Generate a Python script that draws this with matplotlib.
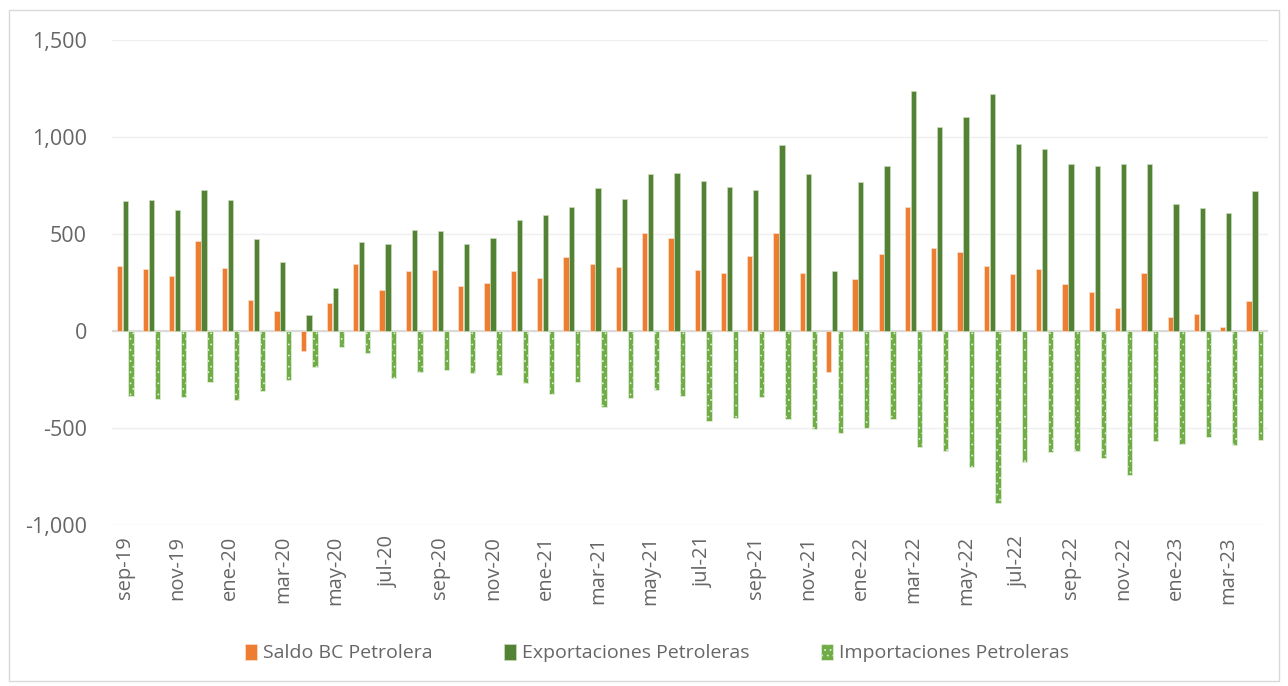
import numpy as np
import matplotlib
matplotlib.use("Agg")
import matplotlib.pyplot as plt
from matplotlib.patches import Rectangle

plt.rcParams['font.family'] = ['Open Sans', 'DejaVu Sans']
plt.rcParams['hatch.linewidth'] = 0.5

meses = ['sep-19', 'oct-19', 'nov-19', 'dic-19', 'ene-20', 'feb-20', 'mar-20', 'abr-20',
         'may-20', 'jun-20', 'jul-20', 'ago-20', 'sep-20', 'oct-20', 'nov-20', 'dic-20',
         'ene-21', 'feb-21', 'mar-21', 'abr-21', 'may-21', 'jun-21', 'jul-21', 'ago-21',
         'sep-21', 'oct-21', 'nov-21', 'dic-21', 'ene-22', 'feb-22', 'mar-22', 'abr-22',
         'may-22', 'jun-22', 'jul-22', 'ago-22', 'sep-22', 'oct-22', 'nov-22', 'dic-22',
         'ene-23', 'feb-23', 'mar-23', 'abr-23']

saldo = [335, 321, 283, 462, 325, 162, 103, -101, 143, 344, 210, 308, 316, 230, 249, 308,
         275, 380, 345, 332, 505, 478, 313, 299, 387, 505, 299, -213, 266, 397, 638, 428,
         407, 335, 292, 320, 242, 201, 119, 299, 72, 86, 19, 155]

exportaciones = [670, 674, 622, 725, 675, 473, 354, 84, 222, 457, 448, 519, 514, 448, 478, 574,
                 598, 639, 739, 679, 808, 816, 775, 744, 727, 959, 808, 308, 766, 851, 1239, 1050,
                 1104, 1220, 963, 940, 859, 853, 862, 863, 654, 633, 610, 720]

importaciones = [-335, -352, -338, -263, -354, -311, -251, -187, -81, -112, -241, -213, -199, -216,
                 -227, -268, -323, -263, -393, -347, -306, -337, -462, -448, -340, -454, -507, -524,
                 -499, -452, -600, -620, -699, -887, -674, -624, -617, -653, -744, -569, -583, -546,
                 -590, -564]

naranja = '#ED7D31'
verde_oscuro = '#548235'
verde_claro = '#70AD47'
gris_texto = '#666666'

fig = plt.figure(figsize=(12.88, 6.86), dpi=100)
ax = fig.add_axes([0.087, 0.2347, 0.8975, 0.707])

x = np.arange(len(meses))
ancho = 0.2
paso = 0.225

ax.bar(x - paso, saldo, ancho, color=naranja, edgecolor='#fbe0cf', linewidth=0.5,
       label='Saldo BC Petrolera', zorder=3)
ax.bar(x, exportaciones, ancho, color=verde_oscuro, edgecolor='#c9dcbd', linewidth=0.5,
       label='Exportaciones Petroleras', zorder=3)
ax.bar(x + paso, importaciones, ancho, color=verde_claro, edgecolor='#e6f0de', linewidth=0.5,
       hatch='...', label='Importaciones Petroleras', zorder=3)

ax.set_xlim(-0.5, len(meses) - 0.5)
ax.set_ylim(-1000, 1500)
ax.set_yticks([-1000, -500, 0, 500, 1000, 1500])
ax.yaxis.set_major_formatter(matplotlib.ticker.FuncFormatter(lambda v, p: f'{v:,.0f}'))
ax.grid(axis='y', color='#efefef', linewidth=1, zorder=0)
ax.axhline(0, color='#d9d9d9', linewidth=1.5, zorder=2)

ax.set_xticks(x[::2])
ax.set_xticklabels(meses[::2], rotation=90)
ax.tick_params(axis='both', length=0, labelsize=14.5, colors=gris_texto)
ax.tick_params(axis='y', pad=18, labelsize=15.5)
ax.tick_params(axis='x', pad=8)
for lado in ['top', 'right', 'left', 'bottom']:
    ax.spines[lado].set_visible(False)

fig.legend(loc='center', bbox_to_anchor=(0.51, 0.048), ncol=3, frameon=False,
           fontsize=14, labelcolor=gris_texto, handlelength=0.6, handleheight=0.9,
           handletextpad=0.3, columnspacing=3.7)

# marco exterior del grafico
fig.patches.append(Rectangle((0.007, 0.007), 0.986, 0.979, transform=fig.transFigure,
                             fill=False, edgecolor='#d9d9d9', linewidth=1))

fig.savefig('out.png', dpi=100)
